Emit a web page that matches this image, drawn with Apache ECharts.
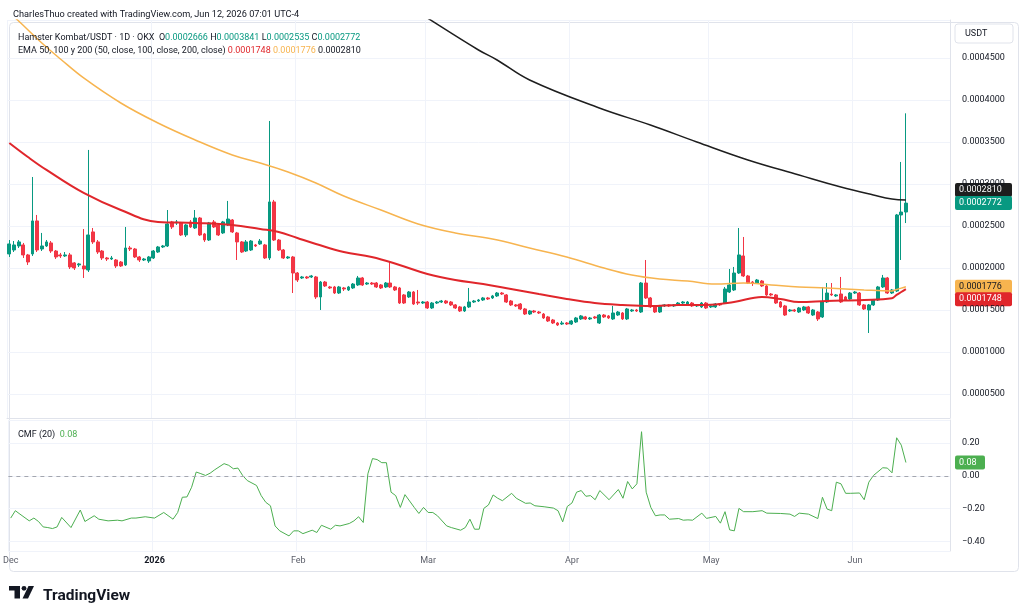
<!DOCTYPE html>
<html>
<head>
<meta charset="utf-8">
<script src="https://cdn.jsdelivr.net/npm/echarts@6/dist/echarts.min.js"></script>
<style>
html, body { margin: 0; padding: 0; background: #fff; }
#chart { width: 1024px; height: 615px; }
</style>
</head>
<body>
<div id="chart"></div>
<script>
const startDate = '2025-12-01'
const futureDays = 9
const monthNames = ['Jan', 'Feb', 'Mar', 'Apr', 'May', 'Jun', 'Jul', 'Aug', 'Sep', 'Oct', 'Nov', 'Dec']

// daily candles: [open, close, low, high]
const candles = [
  [0.0002167, 0.0002286, 0.0002131, 0.0002333], [0.0002214, 0.0002274, 0.0002190, 0.0002321],
  [0.0002262, 0.0002310, 0.0002238, 0.0002333], [0.0002274, 0.0002155, 0.0002119, 0.0002298],
  [0.0002155, 0.0002071, 0.0002036, 0.0002167], [0.0002167, 0.0002560, 0.0002143, 0.0003083],
  [0.0002560, 0.0002214, 0.0002190, 0.0002631], [0.0002226, 0.0002262, 0.0002202, 0.0002417],
  [0.0002262, 0.0002310, 0.0002250, 0.0002333], [0.0002298, 0.0002202, 0.0002179, 0.0002321],
  [0.0002202, 0.0002131, 0.0002107, 0.0002214], [0.0002155, 0.0002143, 0.0002119, 0.0002179],
  [0.0002143, 0.0002155, 0.0002131, 0.0002190], [0.0002155, 0.0002012, 0.0001988, 0.0002179],
  [0.0002060, 0.0002000, 0.0001976, 0.0002071], [0.0002036, 0.0002048, 0.0002012, 0.0002060],
  [0.0002024, 0.0001988, 0.0001881, 0.0002464], [0.0001976, 0.0002393, 0.0001952, 0.0003405],
  [0.0002429, 0.0002310, 0.0002286, 0.0002476], [0.0002310, 0.0002190, 0.0002167, 0.0002333],
  [0.0002202, 0.0002119, 0.0002095, 0.0002214], [0.0002119, 0.0002107, 0.0002083, 0.0002131],
  [0.0002107, 0.0002119, 0.0002095, 0.0002143], [0.0002095, 0.0002024, 0.0002000, 0.0002107],
  [0.0002071, 0.0002024, 0.0002012, 0.0002083], [0.0002036, 0.0002238, 0.0002024, 0.0002488],
  [0.0002238, 0.0002226, 0.0002202, 0.0002262], [0.0002226, 0.0002131, 0.0002119, 0.0002238],
  [0.0002131, 0.0002095, 0.0002071, 0.0002143], [0.0002095, 0.0002107, 0.0002083, 0.0002119],
  [0.0002083, 0.0002131, 0.0002060, 0.0002143], [0.0002119, 0.0002202, 0.0002107, 0.0002214],
  [0.0002190, 0.0002250, 0.0002179, 0.0002262], [0.0002250, 0.0002262, 0.0002238, 0.0002274],
  [0.0002262, 0.0002524, 0.0002250, 0.0002690], [0.0002548, 0.0002488, 0.0002464, 0.0002560],
  [0.0002536, 0.0002548, 0.0002512, 0.0002571], [0.0002536, 0.0002393, 0.0002381, 0.0002548],
  [0.0002393, 0.0002512, 0.0002369, 0.0002524], [0.0002548, 0.0002488, 0.0002476, 0.0002571],
  [0.0002476, 0.0002595, 0.0002464, 0.0002690], [0.0002595, 0.0002393, 0.0002381, 0.0002607],
  [0.0002405, 0.0002333, 0.0002310, 0.0002417], [0.0002333, 0.0002536, 0.0002321, 0.0002548],
  [0.0002548, 0.0002488, 0.0002476, 0.0002571], [0.0002512, 0.0002393, 0.0002381, 0.0002524],
  [0.0002417, 0.0002548, 0.0002405, 0.0002560], [0.0002512, 0.0002583, 0.0002500, 0.0002798],
  [0.0002571, 0.0002429, 0.0002417, 0.0002583], [0.0002417, 0.0002310, 0.0002095, 0.0002429],
  [0.0002310, 0.0002190, 0.0002179, 0.0002321], [0.0002202, 0.0002310, 0.0002190, 0.0002333],
  [0.0002214, 0.0002321, 0.0002202, 0.0002333], [0.0002274, 0.0002262, 0.0002250, 0.0002286],
  [0.0002286, 0.0002321, 0.0002274, 0.0002345], [0.0002274, 0.0002119, 0.0002107, 0.0002286],
  [0.0002119, 0.0002786, 0.0002095, 0.0003750], [0.0002786, 0.0002333, 0.0002321, 0.0002810],
  [0.0002333, 0.0002214, 0.0002202, 0.0002345], [0.0002214, 0.0002119, 0.0002107, 0.0002226],
  [0.0002119, 0.0002131, 0.0002107, 0.0002143], [0.0002131, 0.0001940, 0.0001702, 0.0002143],
  [0.0001940, 0.0001857, 0.0001833, 0.0001952], [0.0001881, 0.0001893, 0.0001869, 0.0001905],
  [0.0001893, 0.0001881, 0.0001869, 0.0001905], [0.0001893, 0.0001905, 0.0001881, 0.0001917],
  [0.0001893, 0.0001655, 0.0001631, 0.0001905], [0.0001655, 0.0001833, 0.0001500, 0.0001845],
  [0.0001833, 0.0001786, 0.0001774, 0.0001845], [0.0001774, 0.0001762, 0.0001750, 0.0001786],
  [0.0001774, 0.0001702, 0.0001690, 0.0001786], [0.0001702, 0.0001774, 0.0001690, 0.0001786],
  [0.0001762, 0.0001750, 0.0001726, 0.0001774], [0.0001738, 0.0001774, 0.0001726, 0.0001786],
  [0.0001762, 0.0001809, 0.0001750, 0.0001821], [0.0001798, 0.0001881, 0.0001786, 0.0001905],
  [0.0001881, 0.0001798, 0.0001786, 0.0001893], [0.0001809, 0.0001821, 0.0001798, 0.0001833],
  [0.0001821, 0.0001809, 0.0001798, 0.0001833], [0.0001821, 0.0001774, 0.0001762, 0.0001833],
  [0.0001798, 0.0001762, 0.0001750, 0.0001809], [0.0001774, 0.0001821, 0.0001762, 0.0001833],
  [0.0001821, 0.0001774, 0.0001762, 0.0002083], [0.0001774, 0.0001738, 0.0001726, 0.0001786],
  [0.0001762, 0.0001583, 0.0001571, 0.0001774], [0.0001679, 0.0001583, 0.0001571, 0.0001690],
  [0.0001655, 0.0001714, 0.0001643, 0.0001726], [0.0001714, 0.0001571, 0.0001560, 0.0001726],
  [0.0001595, 0.0001583, 0.0001560, 0.0001738], [0.0001583, 0.0001595, 0.0001571, 0.0001607],
  [0.0001595, 0.0001524, 0.0001512, 0.0001607], [0.0001524, 0.0001583, 0.0001512, 0.0001595],
  [0.0001583, 0.0001595, 0.0001571, 0.0001607], [0.0001595, 0.0001607, 0.0001583, 0.0001619],
  [0.0001607, 0.0001583, 0.0001571, 0.0001619], [0.0001595, 0.0001560, 0.0001548, 0.0001607],
  [0.0001560, 0.0001524, 0.0001512, 0.0001571], [0.0001536, 0.0001488, 0.0001476, 0.0001548],
  [0.0001488, 0.0001536, 0.0001476, 0.0001548], [0.0001536, 0.0001595, 0.0001524, 0.0001762],
  [0.0001595, 0.0001607, 0.0001583, 0.0001619], [0.0001607, 0.0001619, 0.0001595, 0.0001631],
  [0.0001619, 0.0001643, 0.0001607, 0.0001655], [0.0001643, 0.0001631, 0.0001619, 0.0001655],
  [0.0001643, 0.0001667, 0.0001631, 0.0001679], [0.0001667, 0.0001702, 0.0001655, 0.0001714],
  [0.0001702, 0.0001690, 0.0001679, 0.0001714], [0.0001679, 0.0001595, 0.0001583, 0.0001690],
  [0.0001607, 0.0001560, 0.0001548, 0.0001619], [0.0001560, 0.0001548, 0.0001536, 0.0001571],
  [0.0001571, 0.0001512, 0.0001500, 0.0001583], [0.0001512, 0.0001452, 0.0001440, 0.0001524],
  [0.0001452, 0.0001488, 0.0001440, 0.0001500], [0.0001488, 0.0001476, 0.0001464, 0.0001500],
  [0.0001476, 0.0001464, 0.0001452, 0.0001488], [0.0001452, 0.0001405, 0.0001393, 0.0001464],
  [0.0001417, 0.0001369, 0.0001357, 0.0001429], [0.0001381, 0.0001345, 0.0001333, 0.0001393],
  [0.0001345, 0.0001321, 0.0001309, 0.0001357], [0.0001333, 0.0001345, 0.0001321, 0.0001369],
  [0.0001345, 0.0001333, 0.0001321, 0.0001357], [0.0001333, 0.0001369, 0.0001321, 0.0001381],
  [0.0001357, 0.0001405, 0.0001345, 0.0001417], [0.0001393, 0.0001429, 0.0001381, 0.0001440],
  [0.0001417, 0.0001393, 0.0001381, 0.0001429], [0.0001393, 0.0001405, 0.0001381, 0.0001417],
  [0.0001417, 0.0001405, 0.0001393, 0.0001429], [0.0001345, 0.0001440, 0.0001333, 0.0001452],
  [0.0001440, 0.0001417, 0.0001405, 0.0001452], [0.0001429, 0.0001405, 0.0001393, 0.0001440],
  [0.0001393, 0.0001464, 0.0001381, 0.0001548], [0.0001440, 0.0001476, 0.0001429, 0.0001488],
  [0.0001464, 0.0001393, 0.0001381, 0.0001476], [0.0001393, 0.0001512, 0.0001381, 0.0001524],
  [0.0001488, 0.0001500, 0.0001476, 0.0001512], [0.0001500, 0.0001488, 0.0001476, 0.0001512],
  [0.0001476, 0.0001821, 0.0001464, 0.0001833], [0.0001821, 0.0001643, 0.0001631, 0.0002095],
  [0.0001643, 0.0001536, 0.0001524, 0.0001655], [0.0001536, 0.0001476, 0.0001464, 0.0001548],
  [0.0001476, 0.0001548, 0.0001464, 0.0001560], [0.0001548, 0.0001560, 0.0001536, 0.0001571],
  [0.0001560, 0.0001548, 0.0001536, 0.0001571], [0.0001548, 0.0001560, 0.0001536, 0.0001571],
  [0.0001571, 0.0001583, 0.0001560, 0.0001595], [0.0001583, 0.0001595, 0.0001571, 0.0001607],
  [0.0001560, 0.0001595, 0.0001548, 0.0001607], [0.0001583, 0.0001548, 0.0001536, 0.0001595],
  [0.0001548, 0.0001560, 0.0001536, 0.0001571], [0.0001536, 0.0001583, 0.0001524, 0.0001595],
  [0.0001583, 0.0001524, 0.0001512, 0.0001595], [0.0001536, 0.0001548, 0.0001524, 0.0001560],
  [0.0001536, 0.0001571, 0.0001524, 0.0001583], [0.0001571, 0.0001560, 0.0001548, 0.0001583],
  [0.0001583, 0.0001750, 0.0001571, 0.0001774], [0.0001714, 0.0001798, 0.0001702, 0.0001988],
  [0.0001738, 0.0001940, 0.0001726, 0.0002012], [0.0001940, 0.0002155, 0.0001929, 0.0002476],
  [0.0002143, 0.0001905, 0.0001893, 0.0002369], [0.0001905, 0.0001821, 0.0001809, 0.0001917],
  [0.0001833, 0.0001821, 0.0001786, 0.0001845], [0.0001821, 0.0001857, 0.0001809, 0.0001869],
  [0.0001845, 0.0001786, 0.0001774, 0.0001857], [0.0001786, 0.0001679, 0.0001667, 0.0001798],
  [0.0001690, 0.0001679, 0.0001667, 0.0001702], [0.0001679, 0.0001583, 0.0001571, 0.0001690],
  [0.0001595, 0.0001536, 0.0001524, 0.0001607], [0.0001548, 0.0001440, 0.0001429, 0.0001560],
  [0.0001488, 0.0001500, 0.0001476, 0.0001512], [0.0001500, 0.0001488, 0.0001476, 0.0001512],
  [0.0001476, 0.0001524, 0.0001464, 0.0001536], [0.0001500, 0.0001536, 0.0001488, 0.0001548],
  [0.0001536, 0.0001464, 0.0001452, 0.0001548], [0.0001440, 0.0001500, 0.0001429, 0.0001512],
  [0.0001476, 0.0001393, 0.0001369, 0.0001488], [0.0001417, 0.0001595, 0.0001405, 0.0001774],
  [0.0001595, 0.0001702, 0.0001583, 0.0001821], [0.0001690, 0.0001679, 0.0001667, 0.0001821],
  [0.0001667, 0.0001679, 0.0001655, 0.0001690], [0.0001690, 0.0001595, 0.0001583, 0.0001893],
  [0.0001655, 0.0001619, 0.0001607, 0.0001667], [0.0001631, 0.0001702, 0.0001619, 0.0001714],
  [0.0001702, 0.0001714, 0.0001690, 0.0001726], [0.0001702, 0.0001560, 0.0001548, 0.0001714],
  [0.0001560, 0.0001512, 0.0001500, 0.0001571], [0.0001500, 0.0001560, 0.0001226, 0.0001571],
  [0.0001560, 0.0001619, 0.0001548, 0.0001631], [0.0001619, 0.0001774, 0.0001607, 0.0001786],
  [0.0001774, 0.0001881, 0.0001762, 0.0001917], [0.0001881, 0.0001702, 0.0001690, 0.0001893],
  [0.0001702, 0.0001738, 0.0001690, 0.0001750], [0.0001726, 0.0002631, 0.0001714, 0.0002643],
  [0.0002631, 0.0002666, 0.0002095, 0.0003262], [0.0002666, 0.0002772, 0.0002535, 0.0003841]
]

// EMA readings: [day index, value]
const ema50 = [
  [0, 0.0003488], [4, 0.0003321], [8, 0.0003167], [16, 0.0002893], [24, 0.0002690], [32, 0.0002548],
  [40, 0.0002536], [48, 0.0002512], [54, 0.0002464], [58, 0.0002429], [62, 0.0002357], [66, 0.0002286],
  [72, 0.0002190], [78, 0.0002131], [84, 0.0002036], [90, 0.0001929], [96, 0.0001857], [102, 0.0001809],
  [108, 0.0001750], [114, 0.0001690], [120, 0.0001631], [126, 0.0001583], [132, 0.0001560], [138, 0.0001548],
  [144, 0.0001560], [150, 0.0001560], [156, 0.0001595], [162, 0.0001655], [166, 0.0001631], [170, 0.0001595],
  [176, 0.0001607], [184, 0.0001619], [190, 0.0001640], [191, 0.0001680], [192, 0.0001714], [193, 0.0001748]
]
const ema100 = [
  [0, 0.0005036], [2, 0.0004940], [7, 0.0004678], [11, 0.0004488], [16, 0.0004262], [24, 0.0003964],
  [32, 0.0003726], [40, 0.0003524], [48, 0.0003345], [54, 0.0003250], [60, 0.0003143], [66, 0.0003012],
  [72, 0.0002857], [80, 0.0002690], [88, 0.0002524], [96, 0.0002417], [104, 0.0002345], [112, 0.0002238],
  [120, 0.0002131], [128, 0.0002000], [134, 0.0001917], [140, 0.0001869], [146, 0.0001845], [152, 0.0001809],
  [158, 0.0001821], [164, 0.0001798], [170, 0.0001774], [176, 0.0001762], [184, 0.0001738], [190, 0.0001726],
  [191, 0.0001744], [192, 0.0001760], [193, 0.0001776]
]
const ema200 = [
  [84, 0.0005190], [90, 0.0004976], [101, 0.0004595], [105, 0.0004476], [112, 0.0004238], [127, 0.0003905],
  [138, 0.0003702], [148, 0.0003500], [159, 0.0003286], [170, 0.0003107], [179, 0.0002964], [186, 0.0002869],
  [190, 0.0002821], [193, 0.0002810]
]

// CMF (20) readings: [day index, value]
const cmf = [
  [0, -0.257], [1, -0.212], [2, -0.233], [4, -0.274], [5, -0.257], [6, -0.278], [7, -0.311], [8, -0.315],
  [9, -0.321], [10, -0.311], [11, -0.253], [13, -0.315], [15, -0.208], [16, -0.278], [18, -0.243], [19, -0.264],
  [21, -0.274], [23, -0.27], [24, -0.274], [26, -0.257], [27, -0.257], [29, -0.249], [31, -0.257], [33, -0.223],
  [35, -0.264], [36, -0.223], [37, -0.13], [38, -0.128], [39, -0.069], [40, 0.024], [41, 0.014], [42, 0.003],
  [43, 0.017], [44, 0.038], [46, 0.075], [47, 0.065], [48, 0.044], [49, 0.048], [50, 0.003], [51, -0.028],
  [53, -0.058], [54, -0.12], [55, -0.161], [56, -0.182], [57, -0.305], [58, -0.335], [60, -0.366], [61, -0.335],
  [62, -0.335], [63, -0.352], [65, -0.331], [66, -0.345], [67, -0.301], [69, -0.325], [70, -0.301], [71, -0.305],
  [73, -0.29], [74, -0.274], [75, -0.249], [76, -0.284], [77, 0.013], [78, 0.106], [79, 0.1], [80, 0.081],
  [81, 0.081], [82, -0.099], [83, -0.12], [84, -0.192], [85, -0.114], [87, -0.192], [88, -0.229], [89, -0.192],
  [90, -0.223], [91, -0.223], [92, -0.243], [94, -0.305], [95, -0.315], [97, -0.331], [98, -0.315], [99, -0.264],
  [100, -0.325], [101, -0.325], [102, -0.198], [103, -0.177], [104, -0.116], [105, -0.136], [106, -0.151],
  [108, -0.106], [109, -0.136], [111, -0.167], [112, -0.165], [113, -0.182], [115, -0.188], [117, -0.196],
  [118, -0.212], [119, -0.28], [120, -0.186], [121, -0.165], [122, -0.099], [123, -0.089], [124, -0.124],
  [125, -0.12], [126, -0.145], [127, -0.089], [129, -0.145], [131, -0.083], [132, -0.136], [133, -0.034],
  [134, -0.079], [135, -0.048], [136, 0.27], [137, -0.099], [138, -0.192], [139, -0.243], [140, -0.238],
  [141, -0.238], [142, -0.264], [144, -0.26], [145, -0.27], [146, -0.268], [147, -0.27], [149, -0.227],
  [150, -0.259], [152, -0.247], [153, -0.288], [154, -0.218], [155, -0.329], [156, -0.335], [157, -0.198],
  [158, -0.218], [160, -0.218], [162, -0.212], [163, -0.227], [166, -0.229], [168, -0.233], [169, -0.247],
  [170, -0.227], [172, -0.233], [174, -0.26], [175, -0.13], [176, -0.202], [177, -0.212], [178, -0.038],
  [179, -0.048], [180, -0.106], [181, -0.106], [183, -0.104], [184, -0.145], [185, -0.038], [186, 0.003],
  [188, 0.05], [189, 0.048], [190, 0.019], [191, 0.233], [192, 0.188], [193, 0.082]
]

const UP = '#089981'
const DOWN = '#f23645'
const EMA50_COLOR = '#e0262b'
const EMA100_COLOR = '#f7b44f'
const EMA200_COLOR = '#1e1e1e'
const CMF_COLOR = '#4caf50'
const GRID_COLOR = '#f0f3fa'
const FONT = 'Roboto, "Noto Sans", sans-serif'
const FS = 9

const dates = []
const d0 = new Date(startDate + 'T00:00:00Z')
for (let i = 0; i < candles.length + futureDays; i++) {
  dates.push(new Date(d0.getTime() + i * 86400000).toISOString().slice(0, 10))
}
const isMonthStart = (i) => dates[i].slice(8) === '01'
const monthLabel = (v) => {
  const m = +v.slice(5, 7)
  return m === 1 ? '{y|' + v.slice(0, 4) + '}' : monthNames[m - 1]
}

const last = candles[candles.length - 1]
const lastEma = (a) => a[a.length - 1][1]
const fmt = (v) => v.toFixed(7)
const fmtCmf = (v) => (v < -1e-9 ? '\u2212' : '') + Math.abs(v).toFixed(2)

const chart = echarts.init(document.getElementById('chart'))

const xBase = {
  type: 'category',
  data: dates,
  boundaryGap: true,
  axisTick: { show: false },
  splitLine: { show: true, interval: (i) => isMonthStart(i), lineStyle: { color: GRID_COLOR } }
}
const txt = (size, color) => ({ fontSize: size, fontWeight: 'normal', color: color, fontFamily: FONT })

chart.setOption({
  animation: false,
  backgroundColor: '#fff',
  textStyle: { fontFamily: FONT },
  title: [
    {
      text: 'CharlesThuo created with TradingView.com, Jun 12, 2026 07:01 UTC-4',
      left: 8, top: 5,
      textStyle: txt(9.2, '#131722')
    },
    {
      text: 'Hamster Kombat/USDT \u00b7 1D \u00b7 OKX  O{t|' + fmt(last[0]) + '} H{t|' + fmt(last[3]) +
        '} L{t|' + fmt(last[2]) + '} C{t|' + fmt(last[1]) + '}',
      left: 13, top: 28,
      textStyle: Object.assign(txt(FS, '#131722'), { rich: { t: txt(FS, UP) } })
    },
    {
      text: 'EMA 50, 100 y 200 (50, close, 100, close, 200, close) {r|' + fmt(lastEma(ema50)) +
        '} {o|' + fmt(lastEma(ema100)) + '} {k|' + fmt(lastEma(ema200)) + '}',
      left: 13, top: 41,
      textStyle: Object.assign(txt(FS, '#131722'), {
        rich: { r: txt(FS, EMA50_COLOR), o: txt(FS, EMA100_COLOR), k: txt(FS, '#131722') }
      })
    },
    {
      text: 'CMF (20)  {g|' + cmf[cmf.length - 1][1].toFixed(2) + '}',
      left: 13, top: 425,
      textStyle: Object.assign(txt(FS, '#131722'), { rich: { g: txt(FS, CMF_COLOR) } })
    },
    {
      text: 'TradingView',
      left: 38, top: 583,
      textStyle: { fontSize: 15.5, fontWeight: 'bold', color: '#131722', fontFamily: FONT }
    }
  ],
  grid: [
    { left: 7, right: 74, top: 20, height: 398 },
    { left: 7, right: 74, top: 420, height: 131 }
  ],
  xAxis: [
    Object.assign({}, xBase, {
      gridIndex: 0,
      axisLine: { show: true, lineStyle: { color: '#e0e3eb' } },
      axisLabel: { show: false }
    }),
    Object.assign({}, xBase, {
      gridIndex: 1,
      axisLine: { show: false },
      axisLabel: {
        show: true,
        interval: (i) => isMonthStart(i),
        formatter: monthLabel,
        color: '#5d606b',
        fontSize: FS,
        margin: 5,
        fontFamily: FONT,
        rich: { y: { fontWeight: 'bold', color: '#131722', fontSize: FS, fontFamily: FONT } }
      }
    })
  ],
  yAxis: [
    {
      gridIndex: 0,
      position: 'right',
      scale: true,
      min: 0.0000214,
      max: 0.0004952,
      minInterval: 0.00005,
      maxInterval: 0.00005,
      axisLine: { show: true, lineStyle: { color: '#e0e3eb' } },
      axisTick: { show: false },
      axisLabel: {
        formatter: fmt, showMinLabel: false, showMaxLabel: false,
        color: '#131722', fontSize: FS, margin: 12, fontFamily: FONT
      },
      splitLine: { lineStyle: { color: GRID_COLOR } }
    },
    {
      gridIndex: 1,
      position: 'right',
      min: -0.458,
      max: 0.3415,
      minInterval: 0.2,
      maxInterval: 0.2,
      axisLine: { show: true, lineStyle: { color: '#e0e3eb' } },
      axisTick: { show: false },
      axisLabel: {
        formatter: fmtCmf, showMinLabel: false, showMaxLabel: false,
        color: '#131722', fontSize: FS, margin: 12, fontFamily: FONT
      },
      splitLine: { lineStyle: { color: GRID_COLOR } }
    }
  ],
  series: [
    {
      name: 'Hamster Kombat/USDT',
      type: 'candlestick',
      xAxisIndex: 0,
      yAxisIndex: 0,
      data: candles,
      barWidth: '72%',
      itemStyle: { color: UP, color0: DOWN, borderColor: UP, borderColor0: DOWN, borderWidth: 1 },
      markLine: {
        silent: true,
        symbol: 'none',
        label: { show: false },
        lineStyle: { color: UP, type: [1, 2], width: 1 },
        data: [{ yAxis: last[1] }]
      }
    },
    {
      name: 'EMA 200', type: 'line', xAxisIndex: 0, yAxisIndex: 0, data: ema200,
      smooth: 0.4, showSymbol: false, lineStyle: { color: EMA200_COLOR, width: 1.5 }
    },
    {
      name: 'EMA 100', type: 'line', xAxisIndex: 0, yAxisIndex: 0, data: ema100,
      smooth: 0.4, showSymbol: false, lineStyle: { color: EMA100_COLOR, width: 1.5 }
    },
    {
      name: 'EMA 50', type: 'line', xAxisIndex: 0, yAxisIndex: 0, data: ema50,
      smooth: 0.4, showSymbol: false, lineStyle: { color: EMA50_COLOR, width: 2 }
    },
    {
      name: 'CMF', type: 'line', xAxisIndex: 1, yAxisIndex: 1, data: cmf,
      showSymbol: false, lineStyle: { color: CMF_COLOR, width: 1 },
      markLine: {
        silent: true,
        symbol: 'none',
        label: { show: false },
        lineStyle: { color: '#a3a6af', type: [4, 4], width: 1 },
        data: [{ yAxis: 0 }]
      }
    }
  ]
})

// price tags on the right scale
function tag(value, axis, shift, bg, fg, w, text) {
  const y = chart.convertToPixel({ yAxisIndex: axis }, value) + shift
  return {
    type: 'group', x: 955, y: y - 7, z: 100,
    children: [
      { type: 'rect', shape: { width: w, height: 14, r: 2 }, style: { fill: bg } },
      {
        type: 'text', x: 4, y: 7,
        style: { text: text, fill: fg, font: FS + 'px ' + FONT, verticalAlign: 'middle' }
      }
    ]
  }
}

chart.setOption({
  graphic: [
    {
      type: 'rect', left: 7, top: 20, z: -10,
      shape: { width: 1009, height: 549, r: 4 },
      style: { fill: 'none', stroke: '#e0e3eb', lineWidth: 1 }
    },
    {
      type: 'rect', x: 955, y: 24,
      shape: { width: 58, height: 19, r: 3 },
      style: { fill: '#fff', stroke: '#e0e3eb', lineWidth: 1 }
    },
    { type: 'text', x: 965, y: 33.5, style: { text: 'USDT', fill: '#131722', font: FS + 'px ' + FONT, verticalAlign: 'middle' } },
    tag(lastEma(ema200), 0, -10, EMA200_COLOR, '#fff', 57, fmt(lastEma(ema200))),
    tag(last[1], 0, 0, UP, '#fff', 57, fmt(last[1])),
    tag(lastEma(ema100), 0, 0, EMA100_COLOR, '#131722', 57, fmt(lastEma(ema100))),
    tag(lastEma(ema50), 0, 10, EMA50_COLOR, '#fff', 57, fmt(lastEma(ema50))),
    tag(cmf[cmf.length - 1][1], 1, 0, CMF_COLOR, '#fff', 30, cmf[cmf.length - 1][1].toFixed(2)),
    // TradingView logo mark
    { type: 'rect', x: 9, y: 586, shape: { width: 11, height: 4.5 }, style: { fill: '#131722' } },
    { type: 'rect', x: 14.5, y: 586, shape: { width: 5.5, height: 12.5 }, style: { fill: '#131722' } },
    { type: 'circle', shape: { cx: 24, cy: 588.3, r: 2.4 }, style: { fill: '#131722' } },
    { type: 'polygon', shape: { points: [[28.5, 586], [34, 586], [28, 598.5], [22.5, 598.5]] }, style: { fill: '#131722' } }
  ]
})
</script>
</body>
</html>
